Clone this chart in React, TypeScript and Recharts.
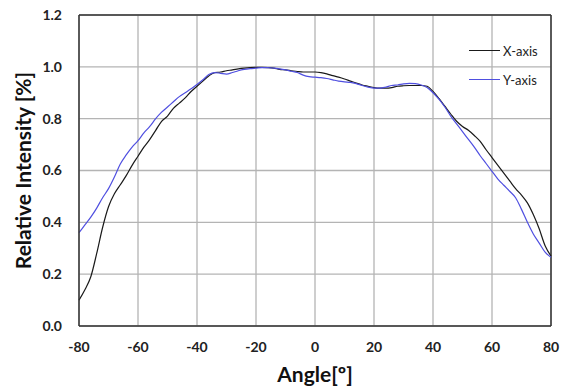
import React from "react";
import { LineChart, Line, XAxis, YAxis, CartesianGrid, ReferenceLine } from "recharts";

const angles = [
  -80, -78, -76, -74, -72, -70, -68, -66, -64, -62, -60, -58, -56, -54, -52, -50, -48, -46, -44, -42,
  -40, -38, -36, -34, -32, -30, -28, -26, -24, -22, -20, -18, -16, -14, -12, -10, -8, -6, -4, -2,
  0, 2, 4, 6, 8, 10, 12, 14, 16, 18, 20, 22, 24, 26, 28, 30, 32, 34, 36, 38,
  40, 42, 44, 46, 48, 50, 52, 54, 56, 58, 60, 62, 64, 66, 68, 70, 72, 74, 76, 78, 80,
];

const xAxisValues = [
  0.10, 0.14, 0.19, 0.28, 0.38, 0.46, 0.51, 0.545, 0.58, 0.62, 0.655, 0.69, 0.72, 0.755, 0.79, 0.81, 0.84, 0.86, 0.88, 0.905,
  0.925, 0.945, 0.965, 0.978, 0.98, 0.985, 0.988, 0.992, 0.995, 0.997, 0.998, 0.998, 0.997, 0.995, 0.99, 0.988, 0.985, 0.982, 0.98, 0.98,
  0.98, 0.978, 0.973, 0.966, 0.96, 0.953, 0.945, 0.937, 0.93, 0.925, 0.92, 0.918, 0.918, 0.92, 0.925, 0.927, 0.928, 0.928, 0.928, 0.925,
  0.905, 0.878, 0.848, 0.818, 0.79, 0.77, 0.755, 0.735, 0.712, 0.68, 0.65, 0.62, 0.59, 0.56, 0.53, 0.505, 0.475, 0.43, 0.375, 0.31, 0.27,
];

const yAxisValues = [
  0.36, 0.39, 0.42, 0.455, 0.495, 0.53, 0.575, 0.625, 0.66, 0.69, 0.715, 0.745, 0.77, 0.80, 0.825, 0.845, 0.865, 0.885, 0.90, 0.915,
  0.932, 0.95, 0.97, 0.978, 0.975, 0.972, 0.978, 0.985, 0.99, 0.993, 0.995, 0.997, 0.997, 0.995, 0.992, 0.988, 0.983, 0.978, 0.968, 0.962,
  0.96, 0.958, 0.955, 0.95, 0.945, 0.942, 0.94, 0.935, 0.928, 0.922, 0.918, 0.918, 0.922, 0.928, 0.93, 0.934, 0.936, 0.935, 0.93, 0.92,
  0.90, 0.875, 0.845, 0.81, 0.78, 0.75, 0.72, 0.69, 0.657, 0.627, 0.597, 0.567, 0.543, 0.52, 0.495, 0.45, 0.40, 0.355, 0.32, 0.285, 0.265,
];

const xTicks = [-80, -60, -40, -20, 0, 20, 40, 60, 80];
const yTicks = [0, 0.2, 0.4, 0.6, 0.8, 1.0, 1.2];

const data = angles.map((a, i) => ({ angle: a, x: xAxisValues[i], y: yAxisValues[i] }));

const FONT = "Lato, 'Open Sans', sans-serif";

const legendItems = [
  { name: "X-axis", color: "#1a1a1a" },
  { name: "Y-axis", color: "#4f4fe0" },
];

export default function App() {
  return (
    <div style={{ position: "absolute", left: 0, top: 0, width: 563, height: 389, background: "#fff" }}>
      <LineChart width={563} height={389} data={data} margin={{ top: 15, right: 12, bottom: 0, left: 0 }}>
        <CartesianGrid stroke="#b4b4b4" strokeWidth={1.3} />
        <XAxis
          dataKey="angle"
          type="number"
          domain={[-80, 80]}
          ticks={xTicks}
          height={63}
          axisLine={{ stroke: "#333", strokeWidth: 1.5 }}
          tickLine={false}
          tickSize={0}
          tickMargin={16}
          tick={{ fill: "#222", fontSize: 14, fontWeight: 700, fontFamily: FONT }}
          label={{ value: "Angle[º]", position: "insideBottom", offset: 7, fill: "#111", fontSize: 21, fontWeight: 700, fontFamily: FONT }}
        />
        <YAxis
          type="number"
          domain={[0, 1.2]}
          ticks={yTicks}
          width={79}
          axisLine={{ stroke: "#333", strokeWidth: 1.5 }}
          tickLine={false}
          tickSize={0}
          tickMargin={17}
          tickFormatter={(v: number) => v.toFixed(1)}
          tick={{ fill: "#222", fontSize: 14, fontWeight: 700, fontFamily: FONT }}
          label={{
            value: "Relative Intensity [%]",
            angle: -90,
            position: "insideLeft",
            offset: 24,
            style: { textAnchor: "middle" },
            fill: "#111",
            fontSize: 21,
            fontWeight: 700,
            fontFamily: FONT,
          }}
        />
        <ReferenceLine y={1.2} stroke="#333" strokeWidth={1.5} />
        <ReferenceLine x={80} stroke="#333" strokeWidth={1.5} />
        <Line type="monotone" dataKey="x" name="X-axis" stroke="#1a1a1a" strokeWidth={1.2} dot={false} isAnimationActive={false} />
        <Line type="monotone" dataKey="y" name="Y-axis" stroke="#4f4fe0" strokeWidth={1.2} dot={false} isAnimationActive={false} />
      </LineChart>
      <div style={{ position: "absolute", left: 469, top: 36, fontFamily: FONT, fontSize: 13, color: "#222" }}>
        {legendItems.map((it) => (
          <div key={it.name} style={{ display: "flex", alignItems: "center", height: 29 }}>
            <span style={{ display: "inline-block", width: 31, height: 0, borderTop: `1.3px solid ${it.color}`, marginRight: 3 }} />
            <span>{it.name}</span>
          </div>
        ))}
      </div>
    </div>
  );
}
